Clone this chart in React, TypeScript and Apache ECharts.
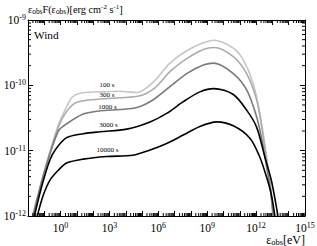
import React, { useEffect, useRef } from 'react';
import * as echarts from 'echarts';

// Axis ranges (exponents of 10)
const X_MIN = -2;
const X_MAX = 15;
const Y_MIN = -12;
const Y_MAX = -9;

// Curves: log10(eps_obs [eV]) and log10(eps F [erg cm^-2 s^-1])
const logE100 = [-1.72, -0.96, -0.14, 0.27, 0.68, 1.19, 2.42, 3.64, 4.69, 5.69, 6.71, 7.74, 8.76, 9.41, 10.6, 11.21, 11.82, 12.23, 12.54, 12.79, 12.94, 13.02];
const logF100 = [-12.0, -11.27, -10.61, -10.38, -10.19, -10.12, -10.1, -10.09, -10.11, -9.95, -9.66, -9.47, -9.35, -9.31, -9.43, -9.61, -9.97, -10.43, -10.91, -11.37, -11.68, -12.0];

const logE300 = [-1.72, -0.96, -0.14, 0.37, 0.99, 2.42, 3.64, 4.87, 5.79, 6.71, 7.74, 8.76, 9.41, 10.6, 11.42, 12.03, 12.34, 12.6, 12.85, 13.03];
const logF300 = [-12.0, -11.3, -10.64, -10.4, -10.26, -10.21, -10.19, -10.16, -10.04, -9.79, -9.59, -9.45, -9.42, -9.56, -9.82, -10.22, -10.63, -11.07, -11.5, -12.0];

const logE1000 = [-1.69, -0.96, -0.14, 0.37, 1.39, 2.42, 3.64, 4.69, 5.69, 6.71, 7.74, 8.76, 9.41, 10.6, 11.42, 12.03, 12.36, 12.66, 12.88, 13.07];
const logF1000 = [-12.0, -11.3, -10.7, -10.59, -10.44, -10.39, -10.37, -10.34, -10.22, -10.02, -9.82, -9.69, -9.66, -9.82, -10.07, -10.48, -10.84, -11.27, -11.6, -12.0];

const logE3000 = [-1.61, -1.14, -0.65, -0.28, 0.37, 1.39, 2.42, 4.06, 5.49, 6.51, 7.53, 8.55, 9.41, 10.6, 11.42, 12.03, 12.54, 12.94, 13.34];
const logF3000 = [-12.0, -11.53, -11.14, -10.97, -10.8, -10.74, -10.71, -10.67, -10.56, -10.43, -10.25, -10.1, -10.05, -10.14, -10.38, -10.64, -11.1, -11.46, -12.0];

const logE10000 = [-1.43, -1.06, -0.65, -0.14, 0.37, 1.39, 2.83, 4.44, 5.49, 6.51, 7.53, 8.55, 9.58, 10.6, 11.62, 12.23, 12.66, 12.94, 13.15];
const logF10000 = [-12.0, -11.68, -11.45, -11.3, -11.19, -11.13, -11.09, -11.07, -10.99, -10.89, -10.76, -10.63, -10.56, -10.62, -10.81, -11.1, -11.42, -11.68, -12.0];

const curveNames = ['100 s', '300 s', '1000 s', '3000 s', '10000 s'];
const curveColors = ['#c6c6c6', '#acacac', '#7a7a7a', '#000000', '#000000'];
const curveE = [logE100, logE300, logE1000, logE3000, logE10000];
const curveF = [logF100, logF300, logF1000, logF3000, logF10000];
// label anchor (pixel) positions for curve annotations
const labelPos = [[107, 85], [107, 95], [107.5, 107], [108.5, 125], [107.5, 150]];

const SERIF = 'Liberation Serif';

const App: React.FC = () => {
  const ref = useRef<HTMLDivElement>(null);

  useEffect(() => {
    if (!ref.current) return;
    const chart = echarts.init(ref.current, undefined, { renderer: 'svg' });

    const minorTicks: number[][] = [];
    for (let d = X_MIN; d < X_MAX; d++) {
      for (let k = 2; k <= 9; k++) minorTicks.push([d + Math.log10(k), 0]);
    }
    for (let d = Y_MIN; d < Y_MAX; d++) {
      for (let k = 2; k <= 9; k++) minorTicks.push([d + Math.log10(k), 1]);
    }

    const axisRich = {
      b: { fontSize: 11.5, fontFamily: SERIF, color: '#000', lineHeight: 13 },
      s: { fontSize: 8, fontFamily: SERIF, color: '#000', lineHeight: 8, verticalAlign: 'top' },
    };

    const yNameRich = {
      n: { fontSize: 10.3, fontFamily: SERIF, color: '#000', lineHeight: 12 },
      sub: { fontSize: 7.3, fontFamily: SERIF, color: '#000', lineHeight: 6, verticalAlign: 'bottom' },
      sup: { fontSize: 7, fontFamily: SERIF, color: '#000', lineHeight: 6, verticalAlign: 'top' },
    };

    const xNameRich = {
      n: { fontSize: 12, fontFamily: SERIF, color: '#000', lineHeight: 13 },
      sub: { fontSize: 8.5, fontFamily: SERIF, color: '#000', lineHeight: 7, verticalAlign: 'bottom' },
    };

    const lineSeries = curveNames.map((name, i) => ({
      type: 'line',
      name,
      data: curveE[i].map((e, j) => [e, curveF[i][j]]),
      showSymbol: false,
      symbol: 'none',
      smooth: 0.3,
      clip: true,
      lineStyle: { color: curveColors[i], width: 1.6 },
      z: 3 + i,
    }));

    const xAxisBase = {
      type: 'value',
      min: X_MIN,
      max: X_MAX,
      interval: 1,
      splitLine: { show: false },
      axisLine: { show: true, onZero: false, lineStyle: { color: '#000', width: 1 } },
      axisTick: { show: true, inside: true, length: 5, lineStyle: { color: '#000', width: 1 } },
    };
    const yAxisBase = {
      type: 'value',
      min: Y_MIN,
      max: Y_MAX,
      interval: 1,
      splitLine: { show: false },
      axisLine: { show: true, onZero: false, lineStyle: { color: '#000', width: 1 } },
      axisTick: { show: true, inside: true, length: 5, lineStyle: { color: '#000', width: 1 } },
    };

    chart.setOption({
      animation: false,
      backgroundColor: '#ffffff',
      textStyle: { fontFamily: SERIF },
      grid: { left: 28, right: 12, top: 20, bottom: 30, outerBoundsMode: 'none' },
      title: [
        {
          text: '{n|ε}{sub|obs}{n|F(ε}{sub|obs}{n|)[erg cm}{sup|-2}{n| s}{sup|-1}{n|]}',
          left: 28,
          top: 3,
          padding: 0,
          textStyle: { fontFamily: SERIF, fontWeight: 'normal', rich: yNameRich },
        },
        {
          text: '{n|ε}{sub|obs}{n|[eV]}',
          right: 12,
          top: 233,
          padding: 0,
          textStyle: { fontFamily: SERIF, fontWeight: 'normal', rich: xNameRich },
        },
        {
          text: 'Wind',
          left: 34,
          top: 29,
          padding: 0,
          textStyle: { fontFamily: SERIF, fontSize: 11.3, fontWeight: 'normal', color: '#000' },
        },
      ],
      xAxis: [
        {
          ...xAxisBase,
          position: 'bottom',
          axisLabel: {
            show: true,
            margin: 5,
            fontFamily: SERIF,
            formatter: (v: number) => {
              const r = Math.round(v);
              return r % 3 === 0 ? `{b|10}{s|${r}}` : '';
            },
            rich: axisRich,
          },
        },
        { ...xAxisBase, position: 'top', axisLabel: { show: false } },
      ],
      yAxis: [
        {
          ...yAxisBase,
          position: 'left',
          axisLabel: {
            show: true,
            margin: 2,
            fontFamily: SERIF,
            formatter: (v: number) => `{b|10}{s|${Math.round(v)}}`,
            rich: axisRich,
          },
        },
        { ...yAxisBase, position: 'right', axisLabel: { show: false } },
      ],
      series: [
        ...lineSeries,
        {
          type: 'custom',
          name: 'minorTicks',
          silent: true,
          data: minorTicks,
          clip: false,
          z: 10,
          renderItem: (_params: any, api: any) => {
            const v = api.value(0);
            const kind = api.value(1);
            const style = { stroke: '#000', lineWidth: 1 };
            const len = 3;
            if (kind === 0) {
              const b = api.coord([v, Y_MIN]);
              const t = api.coord([v, Y_MAX]);
              return {
                type: 'group',
                children: [
                  { type: 'line', shape: { x1: b[0], y1: b[1], x2: b[0], y2: b[1] - len }, style },
                  { type: 'line', shape: { x1: t[0], y1: t[1], x2: t[0], y2: t[1] + len }, style },
                ],
              };
            }
            const l = api.coord([X_MIN, v]);
            const r = api.coord([X_MAX, v]);
            return {
              type: 'group',
              children: [
                { type: 'line', shape: { x1: l[0], y1: l[1], x2: l[0] + len, y2: l[1] }, style },
                { type: 'line', shape: { x1: r[0], y1: r[1], x2: r[0] - len, y2: r[1] }, style },
              ],
            };
          },
        },
      ],
      graphic: curveNames.map((name, i) => ({
        type: 'text',
        x: labelPos[i][0],
        y: labelPos[i][1],
        z: 20,
        style: {
          text: name,
          fontFamily: SERIF,
          fontSize: 7,
          fill: '#000',
          align: 'center',
          verticalAlign: 'middle',
        },
      })),
    });

    return () => chart.dispose();
  }, []);

  return (
    <div
      ref={ref}
      style={{ position: 'fixed', left: 0, top: 0, width: 317, height: 246, background: '#fff' }}
    />
  );
};

export default App;
